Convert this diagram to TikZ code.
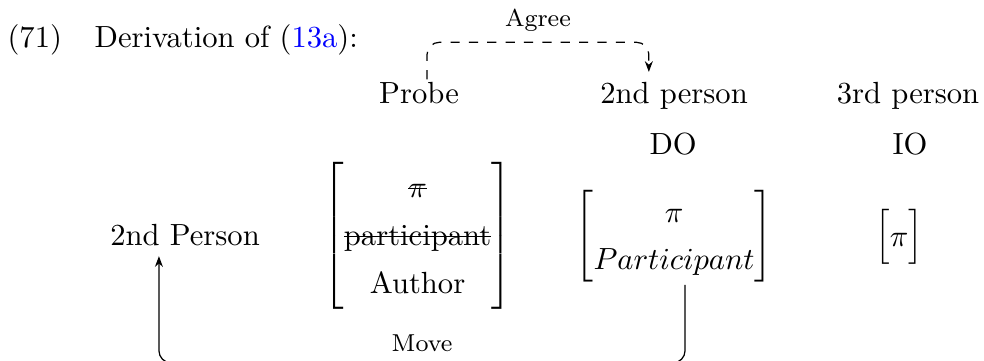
\documentclass[tikz,border=0pt]{standalone}
\usepackage{amsmath}
\usepackage{tikz}
\usetikzlibrary{arrows.meta}
\renewcommand{\arraystretch}{1.3}
\newcommand{\strikeword}[1]{\setbox0\hbox{#1}\rlap{\rule[0.65ex]{\wd0}{0.4pt}}\box0}
\tikzset{
	word/.style={anchor=base},
	feat/.style={inner sep=0pt},
	relarrow/.style={-{Stealth[length=3.5pt,width=2.6pt]}, rounded corners=4pt},
	rellabel/.style={pos=0.25, above, font=\footnotesize},
}

\begin{document}
\begin{tikzpicture}
		%%%%% START %%%%%
		
		\useasboundingbox (0, 0) rectangle (11.30, -4.135);
		
		\node[word, anchor=base west, inner sep=0pt] (exnum) at (0.08, -0.551) {(71)};
		\node[word, anchor=base west, inner sep=0pt] (title) at (1.08, -0.551) {Derivation of (\textcolor{blue}{13a}):};
		
		\node[word] (probe) at (4.812, -1.194) {Probe};
		\node[word] (secp) at (7.741, -1.194) {2nd person};
		\node[word] (thirdp) at (10.428, -1.194) {3rd person};
		
		\node[word] (do) at (7.73, -1.78) {DO};
		\node[word] (io) at (10.451, -1.78) {IO};
		
		\node[word] (goal) at (2.125, -2.814) {2nd Person};
		\node[feat] (probefeat) at (4.795, -2.71) {$\begin{bmatrix} \text{\strikeword{$\pi$}} \\ \text{\strikeword{participant}} \\ \text{Author} \end{bmatrix}$};
		\node[feat] (dofeat) at (7.741, -2.716) {$\begin{bmatrix} \pi \\ Participant \end{bmatrix}$};
		\node[feat] (iofeat) at (10.325, -2.716) {$\begin{bmatrix} \pi \end{bmatrix}$};
		
		\draw[relarrow, dashed] ([xshift=0.092cm, yshift=-0.085cm]probe.north) -- ++(0, 0.425) -| ([xshift=-0.29cm]secp.north) node[rellabel] {Agree};
		\draw[relarrow] ([xshift=0.126cm]dofeat.south) -- ++(0, -0.896) -| ([xshift=-0.30cm]goal.south) node[rellabel] {Move};
		
		%%%%% END %%%%%
	\end{tikzpicture}
\end{document}
